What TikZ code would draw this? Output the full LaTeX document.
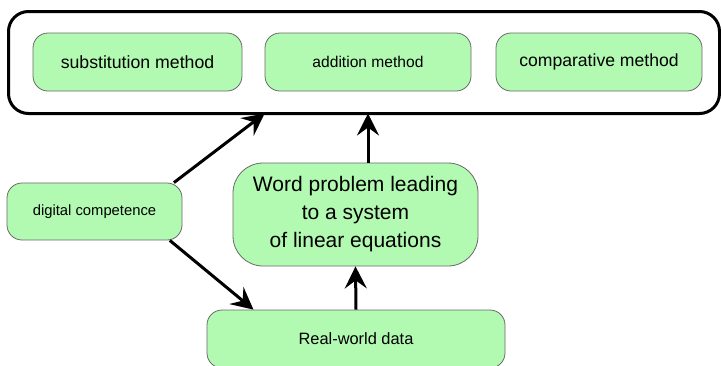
\documentclass[tikz,border=0pt]{standalone}
\usepackage{fontspec}
\setmainfont{Liberation Sans}
\usetikzlibrary{arrows.meta,positioning}
\definecolor{boxgreen}{RGB}{178,250,178}
\definecolor{boxline}{RGB}{105,105,105}

\begin{document}
\begin{tikzpicture}[x=1pt,y=-1pt,
  box/.style={draw=boxline,fill=boxgreen,line width=0.8pt,rounded corners=15pt,inner sep=0pt,align=center},
  flow/.style={line width=3pt,-{Stealth[length=22pt,width=22pt,inset=8pt]}}]
\useasboundingbox (0,0) rectangle (721,365);
\clip (0,0) rectangle (721,365);
\node[draw,line width=3pt,rounded corners=20pt,outer sep=0pt,minimum width=711pt,minimum height=102pt] (methods) at (364,62.5) {};
\node[box,minimum width=209pt,minimum height=58pt,font=\fontsize{17.7}{21}\selectfont] (sub) at (137.5,62) {substitution method};
\node[box,minimum width=206pt,minimum height=58pt,font=\fontsize{15.6}{19}\selectfont] (add) at (368,62) {addition method};
\node[box,minimum width=206pt,minimum height=58pt,font=\fontsize{17.6}{21}\selectfont] (cmp) at (599,62) {comparative method};
\node[box,minimum width=175pt,minimum height=57pt,font=\fontsize{14.8}{18}\selectfont] (dig) at (94.5,211.5) {digital competence};
\node[box,rounded corners=30pt,minimum width=245pt,minimum height=103pt,font=\fontsize{21}{28}\selectfont] (word) at (355.5,214.5) {Word problem leading\\to a system\\of linear equations};
\node[box,minimum width=298pt,minimum height=58pt,font=\fontsize{16.4}{20}\selectfont] (rw) at (356,339) {Real-world data};
\path[flow]
(dig.20) edge (add.south west |- methods.south)
(dig.-21) edge (rw.164)
(rw.north) edge (word.south)
(add.south |- word.north) edge (add.south |- methods.south);
\end{tikzpicture}
\end{document}
